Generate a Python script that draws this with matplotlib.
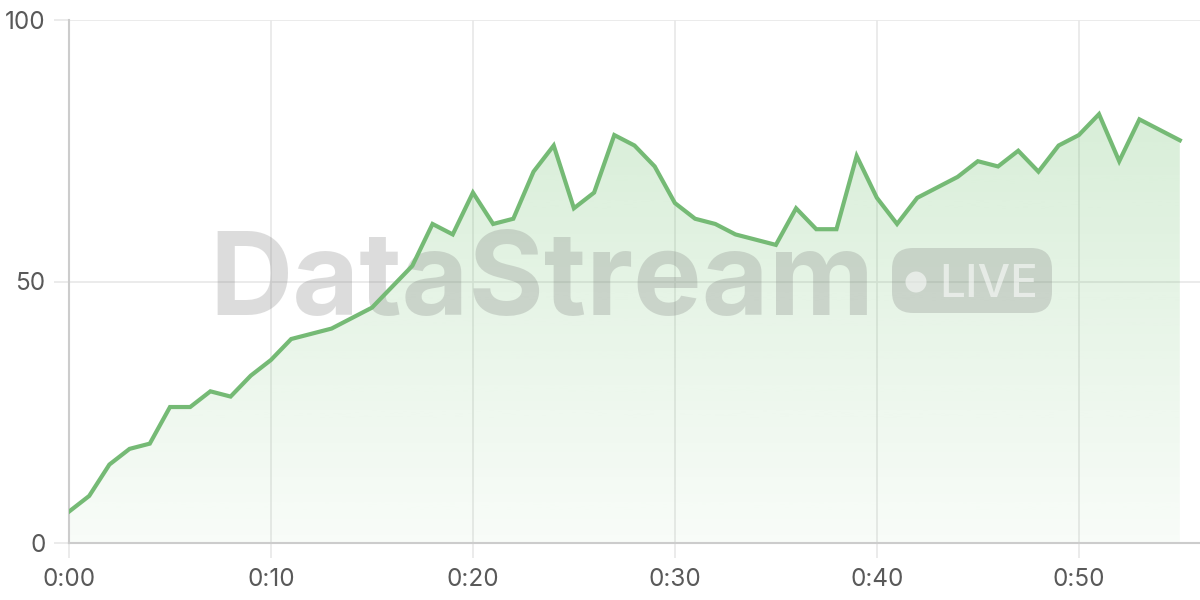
import numpy as np
import matplotlib
matplotlib.use("Agg")
import matplotlib.pyplot as plt
from matplotlib.patches import FancyBboxPatch, Ellipse

plt.rcParams['font.family'] = ['Inter', 'DejaVu Sans']

# data: one reading per minute
minutes = list(range(0, 56))
values = [6, 9, 15, 18, 19, 26, 26, 29, 28, 32,
          35, 39, 40, 41, 43, 45, 49, 53, 61, 59,
          67, 61, 62, 71, 76, 64, 67, 78, 76, 72,
          65, 62, 61, 59, 58, 57, 64, 60, 60, 74,
          66, 61, 66, 68, 70, 73, 72, 75, 71, 76,
          78, 82, 73, 81, 79, 77]
x_ticks = [0, 10, 20, 30, 40, 50]
x_labels = ['0:00', '0:10', '0:20', '0:30', '0:40', '0:50']
y_ticks = [0, 50, 100]

line_color = '#75ba75'
grid_color = '#e8e8e8'
axis_color = '#cccccc'
text_color = '#595959'

fig = plt.figure(figsize=(12, 6), dpi=100)
ax = fig.add_axes([69 / 1200, 57 / 600, 1131 / 1200, 523 / 600])

# gradient fill under the line
top = max(values)
grad = np.zeros((256, 1, 4))
grad[:, 0, :3] = matplotlib.colors.to_rgb('#5cb85c')
grad[:, 0, 3] = np.linspace(0.24, 0.04, 256)
img = ax.imshow(grad, extent=[0, 55, 0, top], origin='upper', aspect='auto', zorder=1)
poly = ax.fill_between(minutes, values, 0, color='none', lw=0)
img.set_clip_path(poly.get_paths()[0], transform=ax.transData)
ax.set_xlim(0, 56)
ax.set_ylim(0, 100)

ax.plot(minutes, values, color=line_color, lw=3, zorder=4, solid_joinstyle='miter')

# watermark
tf = fig.transFigure
ax.text(209 / 1200, 1 - 315 / 600, 'DataStream', transform=tf, fontsize=83,
        fontweight='bold', color='#777777', alpha=0.25, ha='left', va='baseline',
        zorder=3, clip_on=False)
pill = FancyBboxPatch((892 / 1200, 1 - 313 / 600), 160 / 1200, 65 / 600,
                      boxstyle='round,pad=0,rounding_size=0.0175', mutation_aspect=2,
                      transform=tf, facecolor='#777777', alpha=0.25, lw=0,
                      zorder=3, clip_on=False)
ax.add_patch(pill)
ax.add_patch(Ellipse((916 / 1200, 1 - 282 / 600), 21 / 1200, 21 / 600, transform=tf,
                     facecolor='white', alpha=0.55, lw=0, zorder=3, clip_on=False))
ax.text(939 / 1200, 1 - 297 / 600, 'LIVE', transform=tf, fontsize=33,
        fontweight='medium', color='white', alpha=0.55, ha='left', va='baseline',
        zorder=3, clip_on=False)

# axes styling
ax.set_xticks(x_ticks)
ax.set_xticklabels(x_labels)
ax.set_yticks(y_ticks)
ax.grid(True, color=grid_color, lw=1.2)
ax.set_axisbelow(True)
ax.tick_params(axis='both', length=11, width=1.2, color=grid_color,
               labelcolor=text_color, labelsize=17.5)
ax.tick_params(axis='x', pad=7)
ax.tick_params(axis='y', pad=6)
for s in ['top', 'right']:
    ax.spines[s].set_visible(False)
ax.spines['left'].set_color(axis_color)
ax.spines['bottom'].set_color(axis_color)
ax.spines['left'].set_linewidth(1.5)
ax.spines['bottom'].set_linewidth(1.5)

fig.savefig('out.png', dpi=100)
